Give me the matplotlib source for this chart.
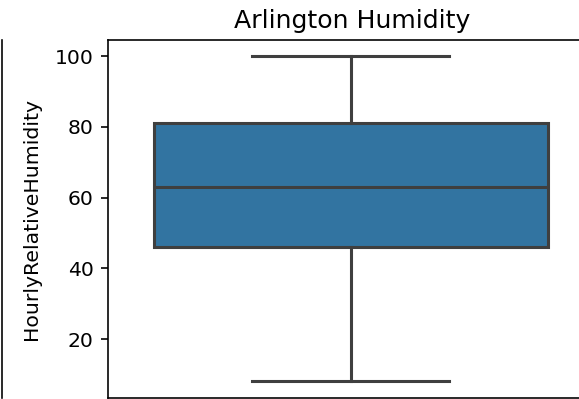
from matplotlib import pyplot as plt

# box statistics
title = "Arlington Humidity"
y_label = "HourlyRelativeHumidity"
whisker_low = 8
q1 = 46
median = 63
q3 = 81
whisker_high = 100

box_color = "#3274a1"
line_color = "#3f3f3f"

dpi = 147
W, H = 579, 399
fig = plt.figure(figsize=(W / dpi, H / dpi), dpi=dpi)

bottom = 1.3 / H
height = (397.7 - 40) / H

# neighbouring subplot, only its right edge shows
ax_prev = fig.add_axes([-0.3, bottom, 0.3 + 2 / W, height])
for side in ["left", "top", "bottom"]:
    ax_prev.spines[side].set_visible(False)
ax_prev.set_xticks([])
ax_prev.set_yticks([])

ax = fig.add_axes([108 / W, bottom, 489 / W, height])

stats = [{
    "whislo": whisker_low,
    "q1": q1,
    "med": median,
    "q3": q3,
    "whishi": whisker_high,
    "fliers": [],
}]
ax.bxp(stats, positions=[0], widths=0.8, patch_artist=True, showfliers=False,
       boxprops=dict(facecolor=box_color, edgecolor=line_color, linewidth=1.5),
       medianprops=dict(color=line_color, linewidth=1.5),
       whiskerprops=dict(color=line_color, linewidth=1.5),
       capprops=dict(color=line_color, linewidth=1.5))

ax.set_xlim(-0.4934, 0.5)
ax.set_ylim(3.4, 104.6)
ax.set_xticks([])
ax.set_yticks([20, 40, 60, 80, 100])
ax.set_ylabel(y_label, labelpad=7)
ax.set_title(title, fontsize=12.3)

fig.savefig("out.png", dpi=dpi)
